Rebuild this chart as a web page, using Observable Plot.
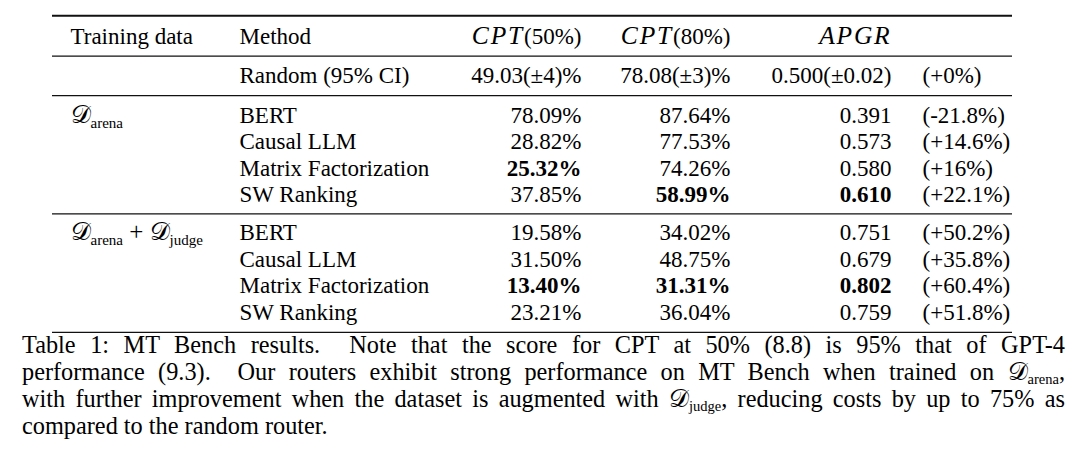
<!DOCTYPE html>
<html>
<head>
<meta charset="utf-8">
<script src="https://cdn.jsdelivr.net/npm/d3@7"></script>
<script src="https://cdn.jsdelivr.net/npm/@observablehq/plot@0.6"></script>
<style>
  body { margin: 0; background: #fff; color: #000; font-family: "Liberation Serif", "Times New Roman", serif; }
  #chart svg { display: block; }
  .cap { margin: -2.5px 0 0 22px; width: 1043px; font-size: 24.3px; line-height: 27.3px; }
  .cap .ln { text-align: justify; text-align-last: justify; white-space: nowrap; }
  .cap .last { text-align: left; white-space: nowrap; }
  .cap sub { font-size: 14.5px; vertical-align: -3.5px; line-height: 0; }
  .cal { font-family: "DejaVu Serif", "DejaVu Sans", serif; font-size: 25px; line-height: 0; }
</style>
</head>
<body>
<div id="chart"></div>
<div class="cap" id="cap"></div>
<script>
// ---------- data ----------
const headers = ["Training data", "Method", "*CPT*(50%)", "*CPT*(80%)", "*APGR*", ""];
const groupLabels = ["𝒟_{arena}", "𝒟_{arena} + 𝒟_{judge}"];
const methods = ["BERT", "Causal LLM", "Matrix Factorization", "SW Ranking"];
const cpt50 = [[78.09, 28.82, 25.32, 37.85], [19.58, 31.50, 13.40, 23.21]];
const cpt80 = [[87.64, 77.53, 74.26, 58.99], [34.02, 48.75, 31.31, 36.04]];
const apgr  = [[0.391, 0.573, 0.580, 0.610], [0.751, 0.679, 0.802, 0.759]];
const gain  = [[-21.8, 14.6, 16, 22.1], [50.2, 35.8, 60.4, 51.8]];
const randomLabel = "Random (95% CI)";
const randomCpt50 = [49.03, 4];
const randomCpt80 = [78.08, 3];
const randomApgr = [0.500, 0.02];
const randomGain = 0;
const captionLines = [
  "Table 1: MT Bench results.&nbsp; Note that the score for CPT at 50% (8.8) is 95% that of GPT-4",
  "performance (9.3).&nbsp; Our routers exhibit strong performance on MT Bench when trained on <span class=\"cal\">𝒟</span><sub>arena</sub>,",
  "with further improvement when the dataset is augmented with <span class=\"cal\">𝒟</span><sub>judge</sub>, reducing costs by up to 75% as",
  "compared to the random router."
];

// ---------- layout (scales) ----------
const colIds = ["L", "train", "method", "cpt50", "cpt80", "apgr", "gain", "R"];
const colPos = [52, 70, 239, 581, 730, 891, 922, 1012];
const anchors = {train: "start", method: "start", cpt50: "end", cpt80: "end", apgr: "end", gain: "start"};
const H = 333;

// row positions in "line" units
const headerY = 0, randomY = 1.5, groupStart = [3, 7.45];
const pad = 0.78;

const fmtGain = v => `(${v < 0 ? "-" : "+"}${Math.abs(v)}%)`;
const cells = [];
const push = (col, y, text, bold = false) => cells.push({col, y, text, bold, anchor: anchors[col]});

headers.forEach((h, i) => { if (h) push(["train","method","cpt50","cpt80","apgr","gain"][i], headerY, h); });
push("method", randomY, randomLabel);
push("cpt50", randomY, `${randomCpt50[0].toFixed(2)}(±${randomCpt50[1]})%`);
push("cpt80", randomY, `${randomCpt80[0].toFixed(2)}(±${randomCpt80[1]})%`);
push("apgr", randomY, `${randomApgr[0].toFixed(3)}(±${randomApgr[1]})`);
push("gain", randomY, fmtGain(randomGain));

groupLabels.forEach((g, gi) => {
  const y0 = groupStart[gi];
  push("train", y0, g);
  const best50 = d3.min(cpt50[gi]), best80 = d3.min(cpt80[gi]), bestA = d3.max(apgr[gi]);
  methods.forEach((m, i) => {
    const y = y0 + i;
    push("method", y, m);
    push("cpt50", y, cpt50[gi][i].toFixed(2) + "%", cpt50[gi][i] === best50);
    push("cpt80", y, cpt80[gi][i].toFixed(2) + "%", cpt80[gi][i] === best80);
    push("apgr", y, apgr[gi][i].toFixed(3), apgr[gi][i] === bestA);
    push("gain", y, fmtGain(gain[gi][i]));
  });
});

const lastRow = groupStart[1] + methods.length - 1;
const rules = [
  {y: headerY - pad, w: 2},
  {y: (headerY + randomY) / 2, w: 1.2},
  {y: (randomY + groupStart[0]) / 2, w: 1.2},
  {y: (groupStart[0] + methods.length - 1 + groupStart[1]) / 2, w: 1.2},
  {y: lastRow + pad, w: 2}
];

const font = "Liberation Serif, Times New Roman, serif";
const textMarks = [];
for (const anchor of ["start", "end"]) {
  for (const bold of [false, true]) {
    const data = cells.filter(d => d.anchor === anchor && d.bold === bold);
    if (!data.length) continue;
    textMarks.push(Plot.text(data, {
      x: "col", y: "y", text: "text", textAnchor: anchor,
      fontSize: 23, fontFamily: font, fontWeight: bold ? "bold" : "normal", fill: "#000"
    }));
  }
}

const unit = 26.4, refPx = 115, refUnit = 3;
const chart = Plot.plot({
  width: 1080,
  height: H,
  margin: 0,
  style: {background: "#fff"},
  x: {type: "ordinal", domain: colIds, range: colPos, axis: null},
  y: {domain: [refUnit - refPx / unit, refUnit + (H - refPx) / unit], range: [0, H], axis: null},
  marks: [
    Plot.ruleY(rules, {y: "y", x1: () => "L", x2: () => "R", strokeWidth: "w", stroke: "#111"}),
    ...textMarks
  ]
});

// rich text: *italic*, _{subscript}, calligraphic 𝒟
const SVGNS = "http://www.w3.org/2000/svg";
d3.select(chart).selectAll("text").each(function () {
  const s = this.textContent;
  if (!/[*_]/.test(s)) return;
  this.textContent = "";
  const re = /\*([^*]+)\*|_\{([^}]+)\}|([^*_]+)/g;
  let m, shifted = false;
  const add = (txt, attrs = {}) => {
    const t = document.createElementNS(SVGNS, "tspan");
    t.textContent = txt;
    for (const [k, v] of Object.entries(attrs)) t.setAttribute(k, v);
    this.appendChild(t);
    return t;
  };
  while ((m = re.exec(s))) {
    if (m[1]) {
      add(m[1], {"font-style": "italic", "font-size": 25.5, "letter-spacing": 1.8});
    } else if (m[2]) {
      add(m[2], shifted ? {"font-size": 15} : {"font-size": 15, dy: 5});
      shifted = true;
    } else {
      const parts = m[3].split("𝒟");
      parts.forEach((p, k) => {
        if (p) {
          const t = add(p, p.trim() === "+" ? {"font-size": 25} : {});
          if (shifted) { t.setAttribute("dy", -5); shifted = false; }
        }
        if (k < parts.length - 1) {
          const t = add("𝒟", {"font-family": "DejaVu Serif, DejaVu Sans, serif", "font-size": 25});
          if (shifted) { t.setAttribute("dy", -5); shifted = false; }
        }
      });
    }
  }
});

document.getElementById("chart").appendChild(chart);
document.getElementById("cap").innerHTML = captionLines
  .map((l, i) => `<div class="${i < captionLines.length - 1 ? "ln" : "last"}">${l}</div>`).join("");
</script>
</body>
</html>
